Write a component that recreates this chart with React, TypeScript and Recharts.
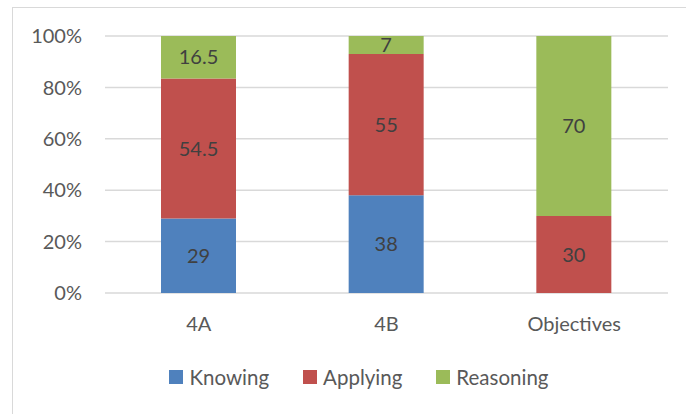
import { Bar, BarChart, CartesianGrid, LabelList, Legend, XAxis, YAxis } from "recharts";

const categories = ["4A", "4B", "Objectives"];
const knowing = [29, 38, 0];
const applying = [54.5, 55, 30];
const reasoning = [16.5, 7, 70];
const yTicks = [0, 20, 40, 60, 80, 100];

const data = categories.map((name, i) => ({
  name,
  Knowing: knowing[i],
  Applying: applying[i],
  Reasoning: reasoning[i],
}));

const FONT = "Lato, 'Open Sans', sans-serif";
const AXIS_TEXT = "#595959";
const LABEL_TEXT = "#404040";

const series = [
  { key: "Knowing", color: "#4F81BD" },
  { key: "Applying", color: "#C0504D" },
  { key: "Reasoning", color: "#9BBB59" },
];

// hide labels for empty segments
const fmt = (v: any) => (v === 0 ? "" : v);

function LegendRow() {
  return (
    <div
      style={{
        display: "flex",
        justifyContent: "center",
        alignItems: "center",
        gap: 34,
        fontFamily: FONT,
        fontSize: 20.5,
        color: AXIS_TEXT,
      }}
    >
      {series.map((s) => (
        <div key={s.key} style={{ display: "flex", alignItems: "center", gap: 6 }}>
          <div style={{ width: 14, height: 14, background: s.color }} />
          <span style={{ lineHeight: "20px" }}>{s.key}</span>
        </div>
      ))}
    </div>
  );
}

export default function App() {
  return (
    <div
      style={{
        position: "fixed",
        left: 0,
        top: 0,
        width: 686,
        height: 414,
        overflow: "hidden",
        background: "#fff",
      }}
    >
      {/* chart frame */}
      <div
        style={{
          position: "absolute",
          left: 12,
          top: 7,
          width: 694,
          height: 430,
          border: "1px solid #d9d9d9",
        }}
      />
      <BarChart
        width={686}
        height={414}
        data={data}
        margin={{ top: 36, right: 18, left: 0, bottom: 51 }}
        barSize={75}
        style={{ position: "absolute", left: 0, top: 0 }}
      >
        <CartesianGrid vertical={false} stroke="#d9d9d9" strokeWidth={1.5} />
        <XAxis
          dataKey="name"
          axisLine={false}
          tickLine={false}
          tickSize={16}
          tickMargin={8}
          height={50}
          tick={{ fill: AXIS_TEXT, fontSize: 20, fontFamily: FONT }}
        />
        <YAxis
          domain={[0, 100]}
          ticks={yTicks}
          width={105}
          axisLine={false}
          tickLine={false}
          tickSize={15}
          tickMargin={8}
          tickFormatter={(v) => `${v}%`}
          tick={{ fill: AXIS_TEXT, fontSize: 20, fontFamily: FONT }}
        />
        <Legend
          content={() => <LegendRow />}
          wrapperStyle={{ position: "absolute", left: 0, width: 718, top: 367 }}
        />
        {series.map((s) => (
          <Bar
            key={s.key}
            dataKey={s.key}
            stackId="a"
            fill={s.color}
            isAnimationActive={false}
          >
            <LabelList
              dataKey={s.key}
              position="center"
              formatter={fmt}
              fill={LABEL_TEXT}
              fontSize={20}
              fontFamily={FONT}
            />
          </Bar>
        ))}
      </BarChart>
    </div>
  );
}
